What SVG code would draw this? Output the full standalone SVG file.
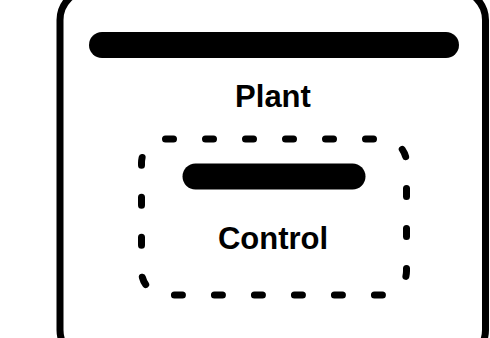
<svg xmlns="http://www.w3.org/2000/svg" width="490" height="338" viewBox="0 0 490 338">
  <style>
    .frame { fill: none; stroke: #000; stroke-width: 7; }
    .bar { stroke: #000; stroke-width: 26; stroke-linecap: round; }
    .dashed { fill: none; stroke: #000; stroke-width: 7; stroke-linecap: round; stroke-dasharray: 8 32; }
    .label { font-family: "Liberation Sans", Arial, Helvetica, sans-serif; font-weight: bold; font-size: 31px; fill: #000; text-anchor: middle; }
  </style>
  <rect width="490" height="338" fill="#fff"/>
  <g id="plant">
    <rect class="frame" x="60" y="-10" width="425.5" height="370" rx="30" ry="30"/>
    <line class="bar" x1="102" y1="45" x2="446" y2="45"/>
    <text class="label" x="273" y="107">Plant</text>
  </g>
  <g id="control">
    <path class="dashed" d="M165.5 139 H382.5 A24 24 0 0 1 406.5 163 V271 A24 24 0 0 1 382.5 295 H165.5 A24 24 0 0 1 141.5 271 V163 A24 24 0 0 1 165.5 139 Z"/>
    <line class="bar" x1="195.5" y1="176.5" x2="352.5" y2="176.5"/>
    <text class="label" x="273" y="249">Control</text>
  </g>
  <g id="connectors"></g>
</svg>
